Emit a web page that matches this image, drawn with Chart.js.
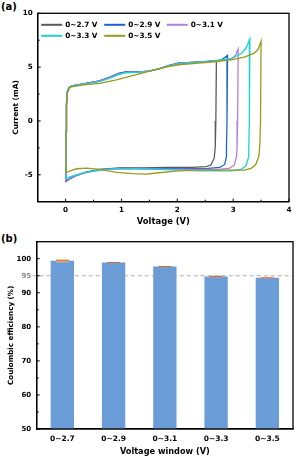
<!DOCTYPE html>
<html>
<head>
<meta charset="utf-8">
<script src="https://cdn.jsdelivr.net/npm/chart.js@4/dist/chart.umd.min.js"></script>
<style>
  body { margin: 0; background: #fff; width: 296px; height: 462px; position: relative; overflow: hidden; }
  canvas { position: absolute; left: 0; }
  #cvChart { top: 0; }
  #ceChart { top: 230px; }
  .tag { position: absolute; left: 1px; font: bold 10px "DejaVu Sans", sans-serif; color: #000; }
</style>
</head>
<body>
<div class="tag" style="top:1px">(a)</div>
<div class="tag" style="top:233px">(b)</div>
<canvas id="cvChart" width="296" height="230"></canvas>
<canvas id="ceChart" width="296" height="232"></canvas>
<script>
// ---- panel (a): CV loops, [voltage V, current mA] ----
const windows = ['0~2.7 V', '0~2.9 V', '0~3.1 V', '0~3.3 V', '0~3.5 V'];
const cvColors = ['#5a5a5a', '#1f62d4', '#b27fe0', '#1dd2d2', '#9c9a1c'];

const cv27 = [[0,-5.65],[0.004,-3.5],[0.008,-1],[0.015,1.5],[0.03,2.7],[0.06,3.1],[0.11,3.26],[0.32,3.45],[0.61,3.73],[0.79,4.07],[0.96,4.44],[1.08,4.56],[1.32,4.56],[1.49,4.63],[1.67,4.84],[1.85,5.16],[2.02,5.37],[2.26,5.43],[2.49,5.5],[2.67,5.59],[2.7,5.62],[2.69,0],[2.68,-2.4],[2.66,-3.48],[2.6,-4.1],[2.52,-4.25],[2.26,-4.32],[1.79,-4.32],[1.38,-4.35],[0.96,-4.35],[0.61,-4.5],[0.38,-4.72],[0.2,-5.03],[0.08,-5.34],[0,-5.65]];
const cv29 = [[0,-5.62],[0.004,-3.5],[0.008,-1],[0.015,1.5],[0.03,2.7],[0.06,3.1],[0.11,3.26],[0.32,3.45],[0.61,3.72],[0.79,4.05],[0.96,4.42],[1.08,4.55],[1.32,4.56],[1.49,4.63],[1.67,4.84],[1.85,5.15],[2.02,5.36],[2.26,5.43],[2.49,5.5],[2.67,5.59],[2.79,5.68],[2.86,5.93],[2.9,6.09],[2.89,0],[2.88,-2.4],[2.88,-3.3],[2.85,-4.04],[2.76,-4.32],[2.55,-4.41],[2.0,-4.42],[1.5,-4.42],[1.0,-4.4],[0.61,-4.52],[0.38,-4.75],[0.2,-5.05],[0.08,-5.35],[0,-5.62]];
const cv31 = [[0,-5.55],[0.004,-3.5],[0.008,-1],[0.015,1.5],[0.03,2.7],[0.06,3.1],[0.11,3.25],[0.32,3.44],[0.61,3.7],[0.79,4.02],[0.96,4.38],[1.08,4.52],[1.32,4.56],[1.49,4.63],[1.67,4.84],[1.85,5.14],[2.02,5.35],[2.26,5.43],[2.49,5.5],[2.67,5.59],[2.79,5.66],[2.96,5.75],[3.04,6.06],[3.09,6.68],[3.08,0],[3.07,-2.4],[3.06,-3.3],[3.02,-4.1],[2.93,-4.41],[2.73,-4.5],[2.3,-4.5],[1.8,-4.47],[1.3,-4.42],[0.9,-4.42],[0.61,-4.55],[0.38,-4.78],[0.2,-5.05],[0.08,-5.3],[0,-5.55]];
const cv33 = [[0,-5.35],[0.004,-3.5],[0.008,-1],[0.015,1.5],[0.03,2.7],[0.06,3.1],[0.11,3.24],[0.32,3.42],[0.61,3.66],[0.79,3.98],[0.96,4.32],[1.08,4.48],[1.32,4.54],[1.49,4.62],[1.67,4.84],[1.85,5.12],[2.02,5.33],[2.26,5.42],[2.49,5.48],[2.67,5.57],[2.96,5.78],[3.14,6.24],[3.22,6.68],[3.3,7.61],[3.29,0],[3.28,-2.4],[3.28,-3.3],[3.23,-4.16],[3.14,-4.5],[2.96,-4.63],[2.38,-4.63],[1.79,-4.52],[1.3,-4.45],[0.9,-4.45],[0.61,-4.58],[0.38,-4.75],[0.2,-4.98],[0.08,-5.2],[0,-5.35]];
const cv35 = [[0,-4.81],[0.004,-3],[0.008,-1],[0.015,1.5],[0.03,2.6],[0.08,3.14],[0.32,3.35],[0.61,3.5],[0.91,3.82],[1.08,4.04],[1.32,4.38],[1.49,4.6],[1.79,5.0],[2.02,5.22],[2.38,5.37],[2.67,5.5],[2.96,5.68],[3.2,5.93],[3.38,6.3],[3.45,6.68],[3.5,7.42],[3.49,0],[3.48,-2],[3.46,-3.3],[3.4,-4.1],[3.32,-4.4],[3.2,-4.57],[2.96,-4.57],[2.38,-4.57],[2.02,-4.63],[1.67,-4.81],[1.44,-4.94],[1.2,-4.9],[0.91,-4.78],[0.61,-4.5],[0.38,-4.38],[0.2,-4.44],[0.08,-4.63],[0,-4.81]];
const cvLoops = [cv27, cv29, cv31, cv33, cv35];

const voltTicks = [0, 1, 2, 3, 4];
const currentTicks = [-5, 0, 5, 10];

// ---- panel (b): coulombic efficiency ----
const windowLabels = ['0~2.7', '0~2.9', '0~3.1', '0~3.3', '0~3.5'];
const ceValues = [99.4, 98.9, 97.7, 94.8, 94.4];
const ceErrors = [0.5, 0.12, 0.12, 0.25, 0.1];
const ceTicks = [50, 60, 70, 80, 90, 95, 100];
const ceRefLine = 95;

Chart.defaults.font.family = '"DejaVu Sans", sans-serif';
Chart.defaults.font.weight = 'bold';
Chart.defaults.color = '#000';

// closed frame + inward major/minor ticks
const boxTicks = {
  id: 'boxTicks',
  afterDraw(chart, args, opts) {
    const { ctx, chartArea: a, scales } = chart;
    ctx.save();
    ctx.strokeStyle = '#000';
    ctx.lineWidth = 1.3;
    ctx.strokeRect(a.left, a.top, a.right - a.left, a.bottom - a.top);
    ctx.lineWidth = 1;
    const mark = (x1, y1, x2, y2) => { ctx.beginPath(); ctx.moveTo(x1, y1); ctx.lineTo(x2, y2); ctx.stroke(); };
    ['x', 'y'].forEach(id => {
      const s = scales[id];
      if (s.type !== 'linear') return;
      const major = s.ticks.map(t => t.value);
      major.forEach(v => {
        const p = s.getPixelForValue(v);
        if (id === 'x') mark(p, a.bottom, p, a.bottom - 3); else mark(a.left, p, a.left + 3, p);
      });
      const step = opts.minor && opts.minor[id];
      if (!step) return;
      for (let v = s.min + step; v < s.max - 1e-6; v += step) {
        if (major.some(m => Math.abs(m - v) < 1e-6)) continue;
        const p = s.getPixelForValue(v);
        if (id === 'x') mark(p, a.bottom, p, a.bottom - 2); else mark(a.left, p, a.left + 2, p);
      }
    });
    ctx.restore();
  }
};

// legend drawn inside the plot, 3 columns x 2 rows
const innerLegend = {
  id: 'innerLegend',
  afterDraw(chart) {
    const { ctx, chartArea: a } = chart;
    const cols = [3.5, 66.5, 129];
    const rows = [11.5, 22.5];
    ctx.save();
    ctx.font = 'bold 7.3px "DejaVu Sans"';
    ctx.textBaseline = 'middle';
    chart.data.datasets.forEach((ds, i) => {
      const x = a.left + cols[i % 3];
      const y = a.top + rows[Math.floor(i / 3)];
      ctx.strokeStyle = ds.borderColor;
      ctx.lineWidth = 2;
      ctx.beginPath(); ctx.moveTo(x, y); ctx.lineTo(x + 21, y); ctx.stroke();
      ctx.fillStyle = '#000';
      ctx.fillText(ds.label, x + 24, y + 0.5);
    });
    ctx.restore();
  }
};

new Chart(document.getElementById('cvChart'), {
  type: 'scatter',
  data: {
    datasets: cvLoops.map((loop, i) => ({
      label: windows[i],
      data: loop.map(p => ({ x: p[0], y: p[1] })),
      showLine: true,
      borderColor: cvColors[i],
      backgroundColor: cvColors[i],
      borderWidth: 1.3,
      pointRadius: 0,
      tension: 0,
      order: 5 - i
    }))
  },
  options: {
    responsive: false,
    animation: false,
    layout: { padding: { top: 13.3, right: 3, left: 0, bottom: 0 } },
    plugins: {
      legend: { display: false },
      tooltip: { enabled: false },
      boxTicks: { minor: { x: 0.5, y: 2.5 } }
    },
    scales: {
      x: {
        type: 'linear', min: -0.5, max: 4,
        afterBuildTicks: s => { s.ticks = voltTicks.map(v => ({ value: v })); },
        afterFit: s => { s.height = 28.3; },
        ticks: { font: { size: 7.2, weight: 'bold' }, padding: 4.5 },
        grid: { display: true, drawOnChartArea: false, drawTicks: false },
        border: { color: '#000', width: 1.3 },
        title: { display: true, text: 'Voltage (V)', font: { size: 8.4, weight: 'bold' }, padding: { top: 0, bottom: 3.2 } }
      },
      y: {
        type: 'linear', min: -7.5, max: 10,
        afterBuildTicks: s => { s.ticks = currentTicks.map(v => ({ value: v })); },
        afterFit: s => { s.width = 37.7; },
        ticks: { font: { size: 7.2, weight: 'bold' }, padding: 5 },
        grid: { display: true, drawOnChartArea: false, drawTicks: false },
        border: { color: '#000', width: 1.3 },
        title: { display: true, text: 'Current (mA)', font: { size: 7.4, weight: 'bold' }, padding: { top: 12, bottom: 0 } }
      }
    }
  },
  plugins: [boxTicks, innerLegend]
});

// error bars and the 95 % reference line
const ceExtras = {
  id: 'ceExtras',
  afterDatasetsDraw(chart) {
    const { ctx, chartArea: a, scales: { y } } = chart;
    const meta = chart.getDatasetMeta(0);
    ctx.save();
    const ry = y.getPixelForValue(ceRefLine);
    ctx.strokeStyle = 'rgba(160,160,160,0.85)';
    ctx.lineWidth = 1.2;
    ctx.setLineDash([4, 3]);
    ctx.beginPath(); ctx.moveTo(a.left - 4, ry); ctx.lineTo(a.right, ry); ctx.stroke();
    ctx.setLineDash([]);
    meta.data.forEach((bar, i) => {
      const hi = y.getPixelForValue(ceValues[i] + ceErrors[i]);
      const lo = y.getPixelForValue(ceValues[i] - ceErrors[i]);
      const mid = y.getPixelForValue(ceValues[i]);
      const w = 13;
      ctx.fillStyle = 'rgba(238,190,140,0.85)';
      ctx.fillRect(bar.x - w / 2, hi, w, Math.max(lo - hi, 1));
      ctx.strokeStyle = '#c86a3a';
      ctx.lineWidth = 1;
      ctx.beginPath(); ctx.moveTo(bar.x - w / 2, mid); ctx.lineTo(bar.x + w / 2, mid); ctx.stroke();
    });
    ctx.restore();
  }
};

new Chart(document.getElementById('ceChart'), {
  type: 'bar',
  data: {
    labels: windowLabels,
    datasets: [{
      data: ceValues,
      backgroundColor: '#6a9cd7',
      borderWidth: 0,
      barPercentage: 0.455,
      categoryPercentage: 1
    }]
  },
  options: {
    responsive: false,
    animation: false,
    layout: { padding: { top: 11.7, right: 3, left: 0, bottom: 0 } },
    plugins: {
      legend: { display: false },
      tooltip: { enabled: false },
      boxTicks: { minor: { y: 5 } }
    },
    scales: {
      x: {
        afterFit: s => { s.height = 33; },
        ticks: { font: { size: 7.5, weight: 'bold' }, padding: 5.5 },
        grid: { display: true, drawOnChartArea: false, drawTicks: false },
        border: { color: '#000', width: 1.3 },
        title: { display: true, text: 'Voltage window (V)', font: { size: 8.2, weight: 'bold' }, padding: { top: 0, bottom: 5 } }
      },
      y: {
        type: 'linear', min: 50, max: 105,
        afterBuildTicks: s => { s.ticks = ceTicks.map(v => ({ value: v })); },
        afterFit: s => { s.width = 36.7; },
        ticks: {
          font: { size: 7, weight: 'bold' }, padding: 5.5,
          color: c => (c.tick && c.tick.value === ceRefLine ? '#8a8a8a' : '#000')
        },
        grid: { display: true, drawOnChartArea: false, drawTicks: false },
        border: { color: '#000', width: 1.3 },
        title: { display: true, text: 'Coulombic efficiency (%)', font: { size: 7.2, weight: 'bold' }, padding: { top: 7, bottom: 0 } }
      }
    }
  },
  plugins: [boxTicks, ceExtras]
});
</script>
</body>
</html>
